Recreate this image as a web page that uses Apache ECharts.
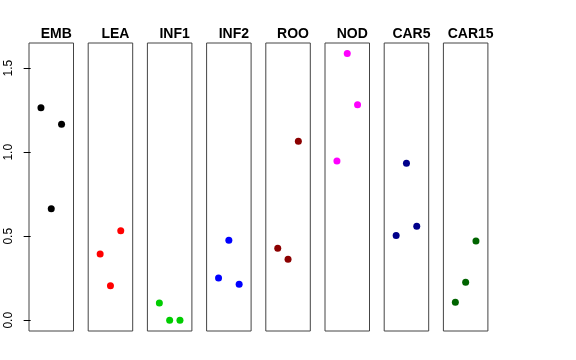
<!DOCTYPE html>
<html>
<head>
<meta charset="utf-8">
<script src="https://cdn.jsdelivr.net/npm/echarts@6/dist/echarts.min.js"></script>
<style>html,body{margin:0;padding:0;background:#fff}#c{width:576px;height:360px}</style>
</head>
<body>
<div id="c"></div>
<script>
const categories = ['EMB','LEA','INF1','INF2','ROO','NOD','CAR5','CAR15'];
const xPositions = [1, 2, 3];
const EMB   = [1.264, 0.664, 1.167];
const LEA   = [0.395, 0.206, 0.533];
const INF1  = [0.103, 0.0, 0.0];
const INF2  = [0.252, 0.476, 0.214];
const ROO   = [0.429, 0.363, 1.065];
const NOD   = [0.948, 1.587, 1.282];
const CAR5  = [0.504, 0.934, 0.560];
const CAR15 = [0.107, 0.226, 0.472];
const yTicks = [0, 0.5, 1.0, 1.5];
const yTickLabels = ['0.0', '0.5', '1.0', '1.5'];

const seriesValues = [EMB, LEA, INF1, INF2, ROO, NOD, CAR5, CAR15];
const colors = ['#000000','#FF0000','#00CD00','#0000FF','#8B0000','#FF00FF','#00008B','#006400'];

const panelLeft0 = 29, panelStep = 59.2, panelWidth = 44.5, panelTop = 43, panelHeight = 288;
const yMin = -0.064, yMax = 1.65;

const grids = [], xAxes = [], yAxes = [], series = [], titles = [];
categories.forEach((cat, i) => {
  const left = panelLeft0 + panelStep * i;
  grids.push({left: left, top: panelTop, width: panelWidth, height: panelHeight,
    show: true, borderColor: '#444', borderWidth: 1, backgroundColor: 'transparent', containLabel: false});
  xAxes.push({type: 'value', gridIndex: i, min: -0.16, max: 4.16, show: false});
  yAxes.push({type: 'value', gridIndex: i, min: yMin, max: yMax, show: i === 0,
    axisLine: {show: false}, splitLine: {show: false},
    axisTick: {show: true, inside: false, length: 7, lineStyle: {color: '#000', width: 1}, customValues: yTicks},
    axisLabel: {show: true, rotate: 90, margin: 14, fontSize: 12, color: '#000',
      fontFamily: 'Liberation Sans, Arial, sans-serif', customValues: yTicks,
      formatter: v => { const k = yTicks.findIndex(t => Math.abs(t - v) < 1e-9); return k >= 0 ? yTickLabels[k] : ''; }}
  });
  series.push({type: 'scatter', xAxisIndex: i, yAxisIndex: i, symbol: 'circle', symbolSize: 7,
    itemStyle: {color: colors[i], opacity: 1}, silent: true,
    data: seriesValues[i].map((v, j) => [xPositions[j], v])});
  titles.push({text: cat, left: left + panelWidth / 2, top: 22, textAlign: 'center',
    textStyle: {fontSize: 14, fontWeight: 'bold', color: '#000', fontFamily: 'Liberation Sans, Arial, sans-serif'}});
});

const chart = echarts.init(document.getElementById('c'), null, {renderer: 'canvas'});
chart.setOption({
  animation: false,
  backgroundColor: '#fff',
  title: titles,
  grid: grids,
  xAxis: xAxes,
  yAxis: yAxes,
  series: series
});
</script>
</body>
</html>
